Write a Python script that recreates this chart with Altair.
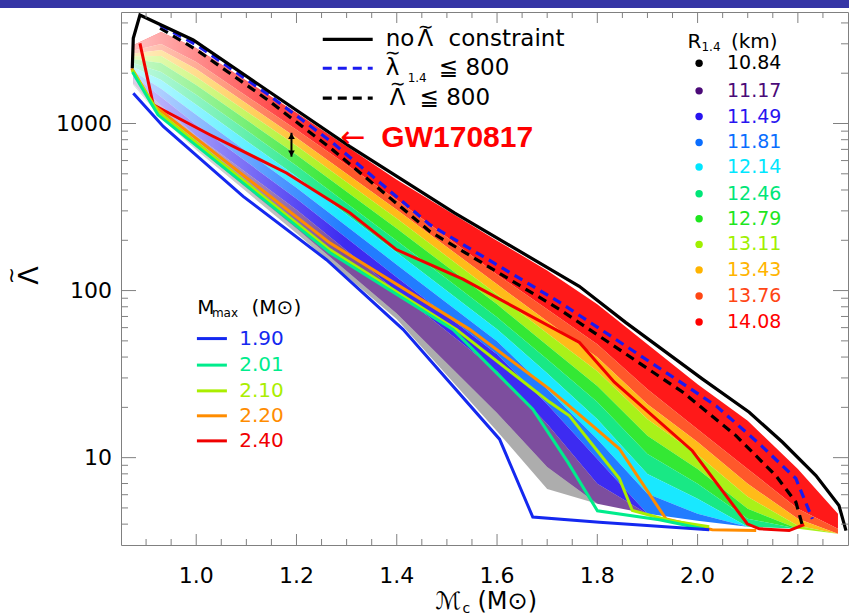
import altair as alt
import pandas as pd

# ---------------- values ----------------
# x: chirp mass (Msun), y: binary tidal deformability Lambda-tilde

# envelope, no Lambda-tilde constraint
NOCON_MC = [0.8725, 0.8745, 0.8878, 0.994, 1.306, 1.515, 1.764, 1.857, 2.010, 2.103, 2.169, 2.236, 2.282, 2.296]
NOCON_LAM = [2142, 3237, 4457, 3161, 730, 292, 106, 64.3, 29.5, 18.7, 12.4, 7.81, 5.17, 3.66]

# lambda_1.4 <= 800 (blue dashed)
L14_MC = [0.928, 1.001, 1.140, 1.272, 1.466, 1.725, 1.957, 2.037, 2.127, 2.196, 2.229]
L14_LAM = [3883, 2950, 1518, 767, 248, 85, 29.5, 20.4, 11.8, 7.5, 4.3]

# Lambda-tilde <= 800 (black dashed)
LT_MC = [0.928, 1.001, 1.140, 1.272, 1.466, 1.725, 1.970, 2.077, 2.156, 2.196, 2.209]
LT_LAM = [3727, 2754, 1403, 697, 226, 77, 24.7, 13.5, 7.81, 5.42, 3.93]

# M_max boundary curves
MMAX_LABELS = ["1.90", "2.01", "2.10", "2.20", "2.40"]
MMAX_COLORS = ["#1428f0", "#00ec8c", "#aaee00", "#ff8c00", "#f00000"]
MMAX_190_MC = [0.8745, 0.9343, 1.0936, 1.2598, 1.4124, 1.605, 1.6713, 1.8042, 2.0233]
MMAX_190_LAM = [1518, 960, 366, 153, 58.6, 12.9, 4.41, 4.11, 3.70]
MMAX_201_MC = [0.8729, 0.9237, 1.2663, 1.512, 1.6713, 1.7411, 1.8002, 1.9237, 2.0133]
MMAX_201_LAM = [2036, 1127, 169, 58.6, 19.5, 9.4, 4.81, 4.25, 3.74]
MMAX_210_MC = [0.8719, 0.9237, 1.2663, 1.5187, 1.7046, 1.7444, 1.844, 1.8699, 1.9438, 2.0233]
MMAX_210_LAM = [2094, 1175, 176, 58.6, 21.5, 17.8, 7.5, 4.83, 4.21, 3.86]
MMAX_220_MC = [0.8713, 0.9143, 1.2663, 1.5452, 1.7046, 1.7908, 1.844, 1.9371, 2.0293, 2.1169]
MMAX_220_LAM = [2142, 1293, 193, 58.6, 25.7, 15.5, 11.3, 4.29, 3.70, 3.66]
MMAX_240_MC = [0.8878, 0.9143, 1.0273, 1.1801, 1.3062, 1.3992, 1.5319, 1.7643, 1.8341, 1.9894, 2.099, 2.1229, 2.1827, 2.2126]
MMAX_240_LAM = [3020, 1293, 857, 506, 292, 176, 117, 48.9, 28.3, 11.0, 4.02, 3.75, 3.66, 3.98]

# EOS cloud, coloured by R_1.4: band edges (top to bottom) at these chirp masses
R_LABELS = ["10.84", "11.17", "11.49", "11.81", "12.14", "12.46", "12.79", "13.11", "13.43", "13.76", "14.08"]
R_COLORS = ["#000000", "#4b0a78", "#2814f0", "#0a6eff", "#00e6ff", "#00e678",
            "#1ee61e", "#a0f000", "#ffb400", "#ff4614", "#ff0000"]
CLOUD_MC = [0.875, 0.93, 1.0, 1.2, 1.4, 1.6, 1.7, 1.8, 1.9, 2.0, 2.1, 2.2, 2.28]
EDGE_0 = [2950, 3528, 2830, 1158, 461, 199, 132, 82.7, 47.7, 27.5, 16.6, 8.56, 4.61]
EDGE_1 = [2732, 2991, 2336, 917, 350, 125, 77.2, 47.7, 25.7, 14.8, 8.56, 4.94, 3.75]
EDGE_2 = [2628, 2754, 2121, 821, 305, 109, 65.5, 39.9, 20.9, 12.4, 6.97, 4.31, 3.50]
EDGE_3 = [2529, 2536, 1900, 736, 270, 94.9, 55.5, 32.9, 17.0, 10.4, 5.83, 3.91, 3.50]
EDGE_4 = [2421, 2304, 1702, 650, 235, 82.7, 47.1, 26.8, 13.5, 8.56, 4.94, 3.75, 3.50]
EDGE_5 = [2291, 2035, 1484, 559, 199, 69.2, 38.8, 21.5, 10.5, 6.97, 4.31, 3.75, 3.50]
EDGE_6 = [2168, 1824, 1293, 481, 169, 58.7, 32.0, 17.0, 7.99, 5.67, 3.86, 3.75, 3.50]
EDGE_7 = [2052, 1612, 1127, 413, 143, 49.7, 25.7, 12.9, 6.07, 4.61, 3.86, 3.75, 3.50]
EDGE_8 = [1943, 1443, 982, 355, 120, 41.6, 20.9, 9.82, 4.61, 4.19, 3.86, 3.75, 3.50]
EDGE_9 = [1839, 1276, 845, 305, 98.9, 32.9, 15.9, 6.97, 4.61, 4.19, 3.86, 3.75, 3.50]
EDGE_10 = [1730, 1110, 720, 235, 73, 18.5, 8.8, 5.29, 4.61, 4.19, 3.86, 3.75, 3.50]
EDGE_11 = [1702, 1081, 697, 220, 67.3, 14.4, 6.50, 5.29, 4.61, 4.19, 3.86, 3.75, 3.50]

# axis ticks and labels
X_MAJOR = [1.0, 1.2, 1.4, 1.6, 1.8, 2.0, 2.2]
X_MINOR = [0.9, 0.95, 1.05, 1.1, 1.15, 1.25, 1.3, 1.35, 1.45, 1.5, 1.55, 1.65, 1.7, 1.75,
           1.85, 1.9, 1.95, 2.05, 2.1, 2.15, 2.25]
X_LABELS = ["1.0", "1.2", "1.4", "1.6", "1.8", "2.0", "2.2"]
Y_MAJOR = [10, 100, 1000]
Y_LABELS = ["10", "100", "1000"]
Y_MINOR = [4, 5, 6, 7, 8, 9, 20, 30, 40, 50, 60, 70, 80, 90, 200, 300, 400, 500, 600, 700, 800, 900,
           2000, 3000, 4000]

# ---------------- layout ----------------
W, H = 727, 533
FRAME = "#808080"
FONT = "DejaVu Sans"
XS = alt.Scale(domain=[0.85, 2.3], nice=False, zero=False)
YS = alt.Scale(type="log", domain=[3, 4650], nice=False)
X_LABEL_LAM = 1.967      # Lambda level of the x tick labels (below the frame)
Y_LABEL_MC = 0.832       # chirp mass of the right edge of the y tick labels


def xq(f):
    return alt.X(f"{f}:Q", scale=XS, axis=None)


def yq(f):
    return alt.Y(f"{f}:Q", scale=YS, axis=None)


# cloud bands (top band = largest radius)
edges = [EDGE_0, EDGE_1, EDGE_2, EDGE_3, EDGE_4, EDGE_5, EDGE_6, EDGE_7, EDGE_8, EDGE_9, EDGE_10, EDGE_11]
top_labels = R_LABELS[::-1]
top_colors = R_COLORS[::-1]
band_op = [0.9] * 9 + [0.72, 0.32]
rows = []
for i, (lab, col) in enumerate(zip(top_labels, top_colors)):
    for j, mc in enumerate(CLOUD_MC):
        rows.append({"band": lab, "Mc": mc, "hi": edges[i][j], "lo": edges[i + 1][j],
                     "col": col, "op": band_op[i]})
band_df = pd.DataFrame(rows)

bands = alt.Chart(band_df).mark_area(interpolate="linear").encode(
    x=xq("Mc"), y=yq("hi"), y2="lo:Q",
    color=alt.Color("col:N", scale=None),
    opacity=alt.Opacity("op:Q", scale=None),
    detail="band:N",
)

env_df = pd.DataFrame({"Mc": CLOUD_MC, "hi": EDGE_0, "lo": EDGE_11})
fade = alt.Chart(env_df).mark_area(
    color=alt.LinearGradient(
        gradient="linear",
        stops=[alt.GradientStop(color="rgba(255,255,255,0.72)", offset=0),
               alt.GradientStop(color="rgba(255,255,255,0.5)", offset=0.09),
               alt.GradientStop(color="rgba(255,255,255,0.15)", offset=0.23),
               alt.GradientStop(color="rgba(255,255,255,0)", offset=0.30),
               alt.GradientStop(color="rgba(255,255,255,0)", offset=1)],
        x1=0, x2=1, y1=0, y2=0)
).encode(x=xq("Mc"), y=yq("hi"), y2="lo:Q")


def curve(mc, lam, color, width=3.0, dash=None):
    df = pd.DataFrame({"Mc": mc, "L": lam, "i": list(range(len(mc)))})
    kw = dict(color=color, strokeWidth=width, clip=True)
    if dash:
        kw["strokeDash"] = dash
    return alt.Chart(df).mark_line(**kw).encode(x=xq("Mc"), y=yq("L"), order="i:Q")


mmax_curves = [
    curve(MMAX_240_MC, MMAX_240_LAM, MMAX_COLORS[4]),
    curve(MMAX_220_MC, MMAX_220_LAM, MMAX_COLORS[3]),
    curve(MMAX_210_MC, MMAX_210_LAM, MMAX_COLORS[2]),
    curve(MMAX_201_MC, MMAX_201_LAM, MMAX_COLORS[1]),
    curve(MMAX_190_MC, MMAX_190_LAM, MMAX_COLORS[0]),
]
lt_line = curve(LT_MC, LT_LAM, "black", 3.2, [9, 6])
l14_line = curve(L14_MC, L14_LAM, "#1a1af0", 3.2, [9, 6])
nocon_line = curve(NOCON_MC, NOCON_LAM, "black", 3.2)

# ticks pointing inward on all four sides
tick_layers = []
for vals, ln in [(X_MAJOR, 11), (X_MINOR, 6)]:
    d = pd.DataFrame({"v": vals})
    tick_layers.append(alt.Chart(d).mark_rule(color=FRAME, strokeWidth=1).encode(
        x=xq("v"), y=alt.value(H), y2=alt.value(H - ln)))
    tick_layers.append(alt.Chart(d).mark_rule(color=FRAME, strokeWidth=1).encode(
        x=xq("v"), y=alt.value(0), y2=alt.value(ln)))
for vals, ln in [(Y_MAJOR, 15), (Y_MINOR, 7)]:
    d = pd.DataFrame({"v": vals})
    tick_layers.append(alt.Chart(d).mark_rule(color=FRAME, strokeWidth=1).encode(
        y=yq("v"), x=alt.value(0), x2=alt.value(ln)))
    tick_layers.append(alt.Chart(d).mark_rule(color=FRAME, strokeWidth=1).encode(
        y=yq("v"), x=alt.value(W), x2=alt.value(W - ln)))


def texts(rows, **kw):
    df = pd.DataFrame(rows, columns=["x", "y", "t", "c"])
    base = dict(align="left", baseline="middle", font=FONT)
    base.update(kw)
    return alt.Chart(df).mark_text(**base).encode(
        x=xq("x"), y=yq("y"), text="t:N", color=alt.Color("c:N", scale=None))


# tick labels
x_labels = texts([(v, X_LABEL_LAM, s, "black") for v, s in zip(X_MAJOR, X_LABELS)],
                 fontSize=22, align="center")
y_labels = texts([(Y_LABEL_MC, v, s, "black") for v, s in zip(Y_MAJOR, Y_LABELS)],
                 fontSize=22, align="right")

# line-style legend (top middle)
LEG1_Y = [3190, 2141, 1418]
leg1_df = pd.DataFrame({"x": [1.2524] * 3, "x2": [1.352] * 3, "y": LEG1_Y})
leg1_solid = alt.Chart(leg1_df.iloc[[0]]).mark_rule(color="black", strokeWidth=3.2).encode(
    x=xq("x"), x2="x2:Q", y=yq("y"))
leg1_blue = alt.Chart(leg1_df.iloc[[1]]).mark_rule(color="#1a1af0", strokeWidth=3.2, strokeDash=[9, 6]).encode(
    x=xq("x"), x2="x2:Q", y=yq("y"))
leg1_black = alt.Chart(leg1_df.iloc[[2]]).mark_rule(color="black", strokeWidth=3.2, strokeDash=[9, 6]).encode(
    x=xq("x"), x2="x2:Q", y=yq("y"))
leg1_text = texts([
    (1.378, 3190, "no", "black"),
    (1.4416, 3190, "\u039b", "black"),
    (1.5034, 3190, "constraint", "black"),
    (1.378, 2141, "\u03bb", "black"),
    (1.484, 2141, "\u2266 800", "black"),
    (1.386, 1418, "\u039b", "black"),
    (1.4456, 1418, "\u2266 800", "black"),
], fontSize=23)
leg1_tilde = texts([
    (1.4576, 3779, "\u223c", "black"),
    (1.392, 2643, "\u223c", "black"),
    (1.4017, 1726, "\u223c", "black"),
], fontSize=19, align="center")
leg1_sub = texts([(1.4217, 1866, "1.4", "black")], fontSize=12)

# GW170817 annotation
gw_text = texts([(1.3693, 821, "GW170817", "#ff0000")], font="Liberation Sans", fontSize=30, fontWeight="bold")
gw_arrow = texts([(1.313, 821, "\u2190", "#ff0000")], fontSize=30, align="center")
darrow_df = pd.DataFrame({"x": [1.19], "y": [880], "y2": [633]})
darrow = alt.Chart(darrow_df).mark_rule(color="black", strokeWidth=2).encode(x=xq("x"), y=yq("y"), y2="y2:Q")
heads_df = pd.DataFrame({"x": [1.19, 1.19], "y": [840, 662], "s": ["triangle-up", "triangle-down"]})
heads = alt.Chart(heads_df).mark_point(filled=True, color="black", size=45, opacity=1).encode(
    x=xq("x"), y=yq("y"), shape=alt.Shape("s:N", scale=None))

# R_1.4 legend (top right)
R_LEG_Y = [2294, 1568, 1101, 770, 549, 380, 269, 189, 133, 92.7, 64.9]
rleg_df = pd.DataFrame({"x": [2.003] * 11, "y": R_LEG_Y, "c": R_COLORS})
rleg_dots = alt.Chart(rleg_df).mark_circle(size=55, opacity=1).encode(
    x=xq("x"), y=yq("y"), color=alt.Color("c:N", scale=None))
rleg_text = texts([(2.0586, y, lab, c) for y, lab, c in zip(R_LEG_Y, R_LABELS, R_COLORS)], fontSize=19)
rleg_title = texts([(1.980, 3087, "R", "black"), (2.0665, 3087, "(km)", "black")], fontSize=20)
rleg_sub = texts([(2.0077, 2871, "1.4", "black")], fontSize=12)

# M_max legend (lower left)
M_LEG_Y = [51.6, 35.8, 25.1, 17.8, 12.6]
mleg_df = pd.DataFrame({"x": [1.0014] * 5, "x2": [1.0612] * 5, "y": M_LEG_Y, "c": MMAX_COLORS})
mleg_lines = alt.Chart(mleg_df).mark_rule(strokeWidth=3).encode(
    x=xq("x"), x2="x2:Q", y=yq("y"), color=alt.Color("c:N", scale=None))
mleg_text = texts([(1.0857, y, lab, c) for y, lab, c in zip(M_LEG_Y, MMAX_LABELS, MMAX_COLORS)], fontSize=20)
mleg_title = texts([(1.0019, 79.1, "M", "black"), (1.1104, 79.1, "(M\u2299)", "black")], fontSize=20)
mleg_sub = texts([(1.0313, 73.8, "max", "black")], fontSize=12)

# axis titles
x_title = texts([(1.4775, 1.375, "\u2133", "black"), (1.561, 1.375, "(M\u2299)", "black")], fontSize=24)
x_sub = texts([(1.531, 1.249, "c", "black")], fontSize=14)
y_title = texts([(0.6687, 123, "\u039b", "black")], fontSize=27, angle=270, align="center")
y_tilde = texts([(0.6329, 123, "\u223c", "black")], fontSize=20, angle=270, align="center")

# top banner of the slide
banner = alt.Chart(pd.DataFrame({"a": [0]})).mark_rect(color="#3535a5").encode(
    x=alt.value(-121), x2=alt.value(W + 1), y=alt.value(-12), y2=alt.value(-4))

chart = alt.layer(
    bands, fade, *mmax_curves, lt_line, l14_line, nocon_line, *tick_layers,
    x_labels, y_labels,
    leg1_solid, leg1_blue, leg1_black, leg1_text, leg1_tilde, leg1_sub,
    gw_text, gw_arrow, darrow, heads,
    rleg_dots, rleg_text, rleg_title, rleg_sub,
    mleg_lines, mleg_text, mleg_title, mleg_sub,
    x_title, x_sub, y_title, y_tilde, banner,
).properties(
    width=W, height=H,
    autosize=alt.AutoSizeParams(type="none"),
    padding={"left": 121, "top": 12, "right": 1, "bottom": 71},
    background="white",
).configure_view(stroke=FRAME, strokeWidth=1)

chart.save("out.html", embed_options={"renderer": "svg", "actions": False})
